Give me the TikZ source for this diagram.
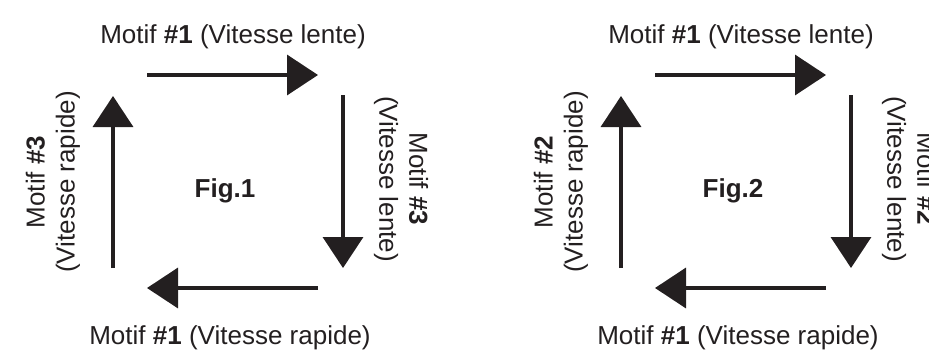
\documentclass[tikz,border=0pt]{standalone}
\usepackage{fontspec}
\setmainfont{Liberation Sans}
\usetikzlibrary{arrows.meta}
\definecolor{ink}{RGB}{35,31,32}
\tikzset{
  fleche/.style={line width=3.5pt,draw=ink,-{Triangle[length=31pt,width=40pt]}},
  legende/.style={text=ink,inner sep=0pt,align=center,font=\fontsize{26}{30}\selectfont},
  titre/.style={text=ink,inner sep=0pt,font=\fontsize{26}{30}\selectfont\bfseries},
}

\begin{document}
\begin{tikzpicture}[x=1pt,y=-1pt]
\clip (0,0) rectangle (929,351);
% Fig.1
\coordinate (ha1) at (147,75);  \coordinate (hb1) at (318,75);
\coordinate (da1) at (343,95);  \coordinate (db1) at (343,268);
\coordinate (ba1) at (318,288); \coordinate (bb1) at (147,288);
\coordinate (ga1) at (113,268); \coordinate (gb1) at (113,96);
\draw[fleche] (ha1) -- (hb1);
\draw[fleche] (da1) -- (db1);
\draw[fleche] (ba1) -- (bb1);
\draw[fleche] (ga1) -- (gb1);
\node[legende,anchor=base] (haut1) at (233,43) {Motif \textbf{\#1} (Vitesse lente)};
\node[legende,anchor=base] (bas1) at (230,344) {Motif \textbf{\#1} (Vitesse rapide)};
\node[legende,rotate=90] (gauche1) at (53,182) {Motif \textbf{\#3}\\(Vitesse rapide)};
\node[legende,rotate=-90] (droite1) at (401,179) {Motif \textbf{\#3}\\(Vitesse lente)};
\node[titre,anchor=base] (fig1) at (225,197) {Fig.1};
% Fig.2
\begin{scope}[xshift=508]
\coordinate (ha2) at (147,75);  \coordinate (hb2) at (318,75);
\coordinate (da2) at (343,95);  \coordinate (db2) at (343,268);
\coordinate (ba2) at (318,288); \coordinate (bb2) at (147,288);
\coordinate (ga2) at (113,268); \coordinate (gb2) at (113,96);
\draw[fleche] (ha2) -- (hb2);
\draw[fleche] (da2) -- (db2);
\draw[fleche] (ba2) -- (bb2);
\draw[fleche] (ga2) -- (gb2);
\node[legende,anchor=base] (haut2) at (233,43) {Motif \textbf{\#1} (Vitesse lente)};
\node[legende,anchor=base] (bas2) at (230,344) {Motif \textbf{\#1} (Vitesse rapide)};
\node[legende,rotate=90] (gauche2) at (53,182) {Motif \textbf{\#2}\\(Vitesse rapide)};
\node[legende,rotate=-90] (droite2) at (401,179) {Motif \textbf{\#2}\\(Vitesse lente)};
\node[titre,anchor=base] (fig2) at (225,197) {Fig.2};
\end{scope}
\end{tikzpicture}
\end{document}
